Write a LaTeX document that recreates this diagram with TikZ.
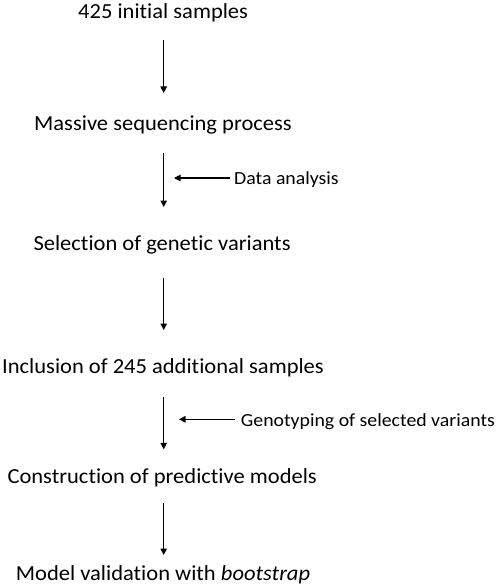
\documentclass[tikz,border=0pt]{standalone}
\usepackage{fontspec}
\setmainfont[Ligatures={NoCommon,NoContextual},Contextuals=NoAlternate]{Carlito}
\newfontfamily\stagefont[FakeStretch=1.05,Ligatures={NoCommon,NoContextual},Contextuals=NoAlternate]{Carlito}
\newfontfamily\labfont[FakeStretch=1.07,Ligatures={NoCommon,NoContextual},Contextuals=NoAlternate]{Carlito}
\usetikzlibrary{arrows.meta}
\begin{document}
\begin{tikzpicture}[x=1pt,y=-1pt,
  stage/.style={anchor=base west,inner sep=0pt,font=\stagefont\fontsize{21.45}{24}\selectfont},
  lab/.style={anchor=base west,inner sep=0pt,font=\labfont\fontsize{18.5}{20}\selectfont},
  flow/.style={-{Triangle[length=6.5pt,width=6.5pt]},line width=1.1pt,black}]
\useasboundingbox (0,0) rectangle (498,588);
\node[stage] (s1) at (78,19) {425 initial samples};
\node[stage] (s2) at (34,131) {Massive sequencing process};
\node[stage] (s3) at (33.3,250) {Selection of genetic variants};
\node[stage] (s4) at (2,373.3) {Inclusion of 245 additional samples};
\node[stage] (s5) at (7.3,483.3) {Construction of predictive models};
\node[stage] (s6) at (15.7,580.7) {Model validation with \textit{bootstrap}};
\node[lab] (l1) at (234,184.5) {Data analysis};
\node[lab] (l2) at (240.7,426) {Genotyping of selected variants};
\coordinate (a1s) at (163.7,40);  \coordinate (a1e) at (163.7,93);
\coordinate (a2s) at (163.7,153); \coordinate (a2e) at (163.7,207);
\coordinate (a3s) at (163.7,277.7); \coordinate (a3e) at (163.7,330);
\coordinate (a4s) at (163.7,396.7); \coordinate (a4e) at (163.7,449.3);
\coordinate (a5s) at (163.7,503.3); \coordinate (a5e) at (163.7,555);
\coordinate (b1e) at (174,178); \coordinate (b2e) at (179,419.3);
\draw[flow] (a1s) -- (a1e);
\draw[flow] (a2s) -- (a2e);
\draw[flow] (a3s) -- (a3e);
\draw[flow] (a4s) -- (a4e);
\draw[flow] (a5s) -- (a5e);
\draw[flow] (l1.west |- b1e) ++(-4,0) -- (b1e);
\draw[flow] (l2.west |- b2e) ++(-6,0) -- (b2e);
\end{tikzpicture}
\end{document}
